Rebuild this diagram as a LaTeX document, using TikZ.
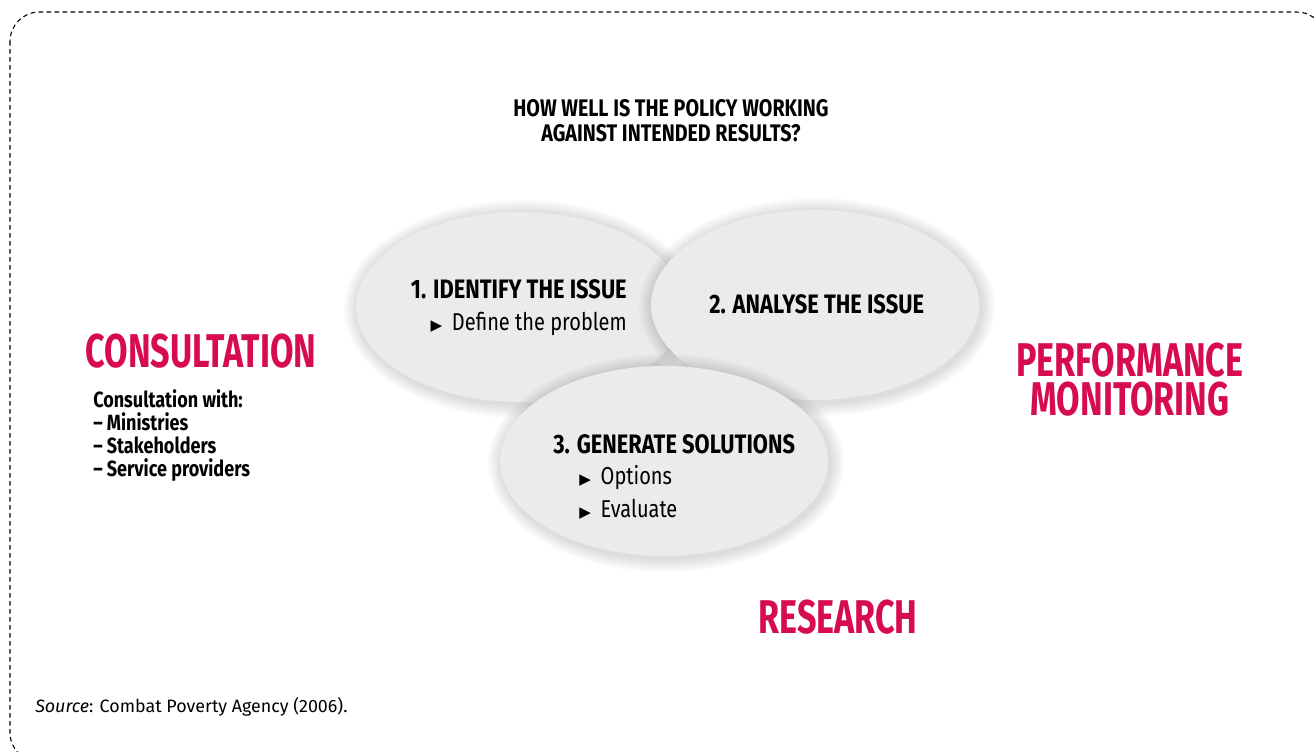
\documentclass[tikz,border=0pt]{standalone}
\usepackage{fontspec}
\setmainfont{Fira Sans}
\newfontfamily\headfont[FakeStretch=0.82]{Fira Sans}
\newfontfamily\bigfont[FakeStretch=0.72]{Fira Sans}
\newfontfamily\symfont{DejaVu Sans}
\usetikzlibrary{shapes.geometric}
\definecolor{policyred}{HTML}{D60B52}
\definecolor{stagegray}{HTML}{EBEBEB}
\newcommand{\bul}{{\symfont\scalebox{0.62}{\char"25B6}}\hspace{0.4em}}
\tikzset{
  every picture/.style={line join=round, line cap=round},
  stage/.style={ellipse, fill=stagegray, minimum width=246pt, minimum height=142.5pt, inner sep=0pt},
  heading/.style={font=\headfont\bfseries\fontsize{20}{22}\selectfont, inner sep=0pt},
  point/.style={font=\headfont\fontsize{18.3}{22}\selectfont, inner sep=0pt},
  bigword/.style={font=\bigfont\bfseries\fontsize{35.5}{29.25}\selectfont, text=policyred, inner sep=0pt,
    text height=0.7em, text depth=0pt},
  smalltext/.style={font=\headfont\bfseries\fontsize{16.5}{17.25}\selectfont, inner sep=0pt, align=left},
}
% soft shadow behind a stage ellipse
\newcommand{\stageshadow}[2]{%
  \foreach \r in {14,12,...,2}
    \fill[black, opacity=0.018] (#1+2,#2+2) ellipse [x radius=164+\r, y radius=95+\r];
}

\begin{document}
\begin{tikzpicture}[x=0.75pt, y=-0.75pt]
\useasboundingbox (0,0) rectangle (1314,751);
\draw[dashed, line width=0.8pt, rounded corners=22pt] (10,12) rectangle (1326,762);

\node[font=\headfont\bfseries\fontsize{18}{18.75}\selectfont, align=center, anchor=base] (question) at (671,141)
  {HOW WELL IS THE POLICY WORKING\\ AGAINST INTENDED RESULTS?};

% the three stages
\stageshadow{520}{307}
\node[stage] (identify) at (520,307) {};
\stageshadow{815}{305}
\node[stage] (analyse) at (815,305) {};
\stageshadow{664}{461}
\node[stage] (generate) at (664,461) {};

\node[heading, anchor=base east] (idhead) at (627,298) {1. IDENTIFY THE ISSUE};
\node[point, anchor=base east] (idpoint) at (627,330) {\bul Define the problem};
\node[heading, anchor=base west] (anhead) at (709,313) {2. ANALYSE THE ISSUE};
\node[heading, anchor=base west] (genhead) at (553,453) {3. GENERATE SOLUTIONS};
\node[point, anchor=base west] (options) at (579,484) {\bul Options};
\node[point, anchor=base west] (evaluate) at (579,517) {\bul Evaluate};

% surrounding inputs
\node[bigword, anchor=base] (consult) at (201,367) {CONSULTATION};
\node[bigword, anchor=base] (perform) at (1130,376) {PERFORMANCE};
\node[bigword, anchor=base] (monitor) at (1130,415) {MONITORING};
\node[bigword, anchor=base] (research) at (838,633) {RESEARCH};
\node[smalltext, anchor=base west] (with) at (93,476)
  {Consultation with:\\ – Ministries\\ – Stakeholders\\ – Service providers};

\node[font=\fontsize{13.4}{15}\selectfont, anchor=base west, inner sep=0pt] (source) at (35,712)
  {\textit{Source}: Combat Poverty Agency (2006).};
\end{tikzpicture}
\end{document}
